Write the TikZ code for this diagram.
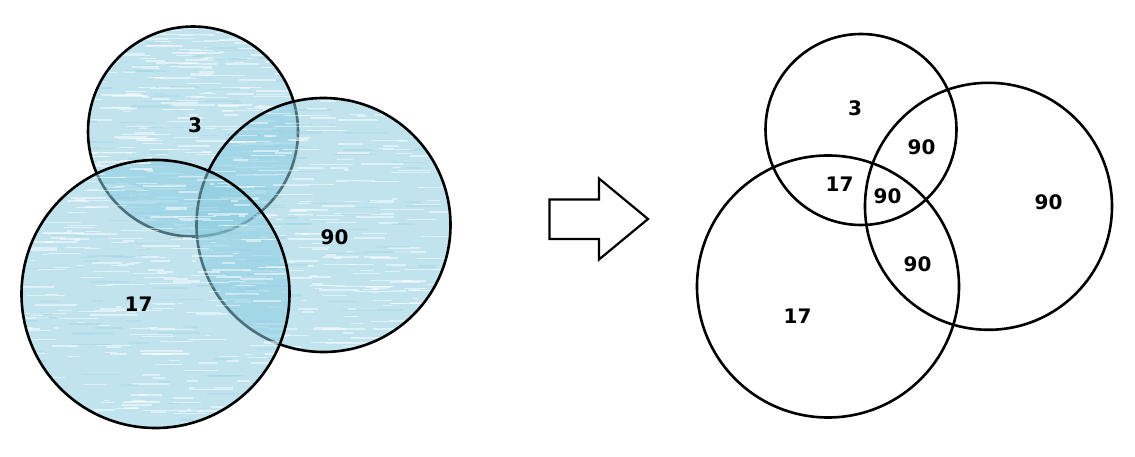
\documentclass[tikz,border=0pt]{standalone}
\usepackage{fontspec}
\setmainfont{DejaVu Sans}
\begin{document}
\begin{tikzpicture}[x=1pt,y=-1pt,
  lbl/.style={font=\fontsize{20}{20}\selectfont\bfseries, inner sep=0pt, text=black},
  ring/.style={draw=black, line width=2.6pt},
  tint/.style={fill={rgb,255:red,140;green,204;blue,224}, fill opacity=0.55},
  streak/.style={draw=white, opacity=0.5},
  dstreak/.style={draw={rgb,255:red,140;green,204;blue,224}, opacity=0.25}]
\useasboundingbox (0,0) rectangle (1135,457);
\pgfmathsetseed{7}
\newcommand{\tintedcircle}[3]{%
  \fill[tint] (#1,#2) circle (#3);
  \begin{scope}
    \clip (#1,#2) circle (#3);
    \foreach \i in {1,...,260} {
      \pgfmathsetmacro\sx{#1-#3+rnd*2*#3-20}
      \pgfmathsetmacro\sy{#2-#3+rnd*2*#3}
      \pgfmathsetmacro\sl{4+rnd*40}
      \pgfmathsetmacro\sw{0.6+rnd*1.6}
      \draw[streak, line width=\sw pt] (\sx,\sy) -- ++(\sl,0);
    }
    \foreach \i in {1,...,80} {
      \pgfmathsetmacro\sx{#1-#3+rnd*2*#3-20}
      \pgfmathsetmacro\sy{#2-#3+rnd*2*#3}
      \pgfmathsetmacro\sl{6+rnd*40}
      \pgfmathsetmacro\sw{0.8+rnd*1.6}
      \draw[dstreak, line width=\sw pt] (\sx,\sy) -- ++(\sl,0);
    }
  \end{scope}
  \draw[ring] (#1,#2) circle (#3);
}
% left (coloured) Venn diagram
\tintedcircle{193}{131.5}{105}
\tintedcircle{323.5}{225}{127}
\tintedcircle{155.5}{294}{134}
\node[lbl] (l3) at (195,125) {3};
\node[lbl] (l90) at (334.5,237.5) {90};
\node[lbl] (l17) at (138.5,304) {17};
% block arrow
\draw[line width=2.2pt, line join=miter] (549.5,199.5) -- (599,199.5) -- (599,178.5) -- (648,219) -- (599,259.5) -- (599,239) -- (549.5,239) -- cycle;
% right Venn diagram
\draw[ring] (861,129.5) circle (95.5);
\draw[ring] (988.5,206.3) circle (123.5);
\draw[ring] (828,286.5) circle (131);
\node[lbl] (r3) at (855,108.5) {3};
\node[lbl] (r90a) at (921.5,147.5) {90};
\node[lbl] (r17a) at (839.5,184.5) {17};
\node[lbl] (r90b) at (887.5,196.5) {90};
\node[lbl] (r90c) at (1048.5,202.5) {90};
\node[lbl] (r90d) at (917.5,264) {90};
\node[lbl] (r17b) at (797.5,316.5) {17};
\end{tikzpicture}
\end{document}
